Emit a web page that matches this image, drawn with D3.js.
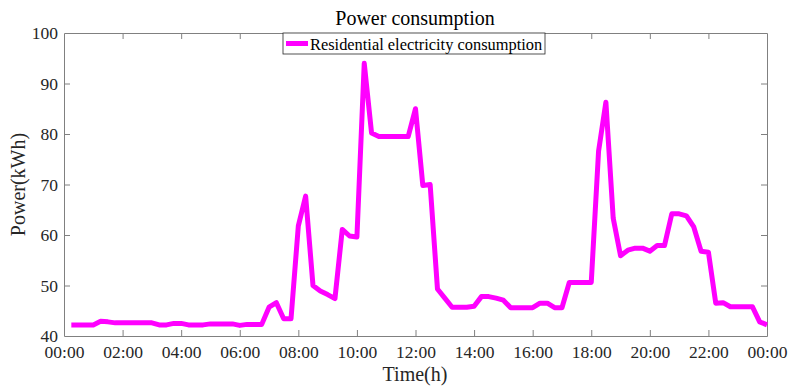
<!DOCTYPE html>
<html>
<head>
<meta charset="utf-8">
<script src="https://cdn.jsdelivr.net/npm/d3@7"></script>
<style>
  body { margin: 0; background: #fff; }
  svg { display: block; font-family: "Liberation Serif", "Times New Roman", serif; }
  .axis path, .axis line { stroke: #808080; }
  .axis text { fill: #262626; font-size: 17.5px; font-family: "Liberation Serif", serif; }
</style>
</head>
<body>
<script>
// hours at 15 min steps, 00:15 .. 24:00
var hours = d3.range(1, 97).map(function (i) { return i * 0.25; });
var power = [
  42.2, 42.2, 42.2, 42.2, 42.9, 42.8, 42.6, 42.6,
  42.6, 42.6, 42.6, 42.6, 42.2, 42.2, 42.5, 42.5,
  42.2, 42.2, 42.2, 42.4, 42.4, 42.4, 42.4, 42.1,
  42.3, 42.3, 42.3, 45.7, 46.6, 43.4, 43.4, 61.8,
  67.7, 50.0, 48.9, 48.2, 47.4, 61.1, 59.8, 59.6,
  94.0, 80.2, 79.5, 79.5, 79.5, 79.5, 79.5, 85.0,
  69.8, 70.0, 49.3, 47.5, 45.7, 45.7, 45.7, 45.9,
  47.8, 47.8, 47.5, 47.1, 45.6, 45.6, 45.6, 45.6,
  46.5, 46.5, 45.6, 45.6, 50.6, 50.6, 50.6, 50.6,
  76.6, 86.3, 63.3, 55.9, 57.0, 57.4, 57.4, 56.8,
  57.9, 57.9, 64.2, 64.2, 63.8, 61.6, 56.8, 56.6,
  46.5, 46.6, 45.8, 45.8, 45.8, 45.8, 42.8, 42.2
];
var xTicks = d3.range(0, 25, 2);
var yTicks = [40, 50, 60, 70, 80, 90, 100];
var title = "Power consumption";
var seriesName = "Residential electricity consumption";

var W = 795, H = 389;
var margin = { top: 33, right: 28, bottom: 53, left: 64 },
  width = W - margin.left - margin.right,
  height = H - margin.top - margin.bottom;

var x = d3.scaleLinear().domain([0, 24]).range([0, width]);
var y = d3.scaleLinear().domain([40, 100]).range([height, 0]);

var svg = d3.select("body").append("svg")
  .attr("width", W).attr("height", H);
var g = svg.append("g")
  .attr("transform", "translate(" + margin.left + "," + margin.top + ")");

function fmt(h) { return (h % 24 < 10 ? "0" : "") + (h % 24) + ":00"; }

// axes, ticks pointing inward, box on all four sides
g.append("g").attr("class", "axis")
  .attr("transform", "translate(0," + height + ")")
  .call(d3.axisBottom(x).tickValues(xTicks).tickFormat(fmt).tickSizeInner(-6).tickSizeOuter(0).tickPadding(10));
g.append("g").attr("class", "axis")
  .call(d3.axisTop(x).tickValues(xTicks).tickFormat("").tickSizeInner(-6).tickSizeOuter(0));
g.append("g").attr("class", "axis")
  .call(d3.axisLeft(y).tickValues(yTicks).tickSizeInner(-6).tickSizeOuter(0).tickPadding(6));
g.append("g").attr("class", "axis")
  .attr("transform", "translate(" + width + ",0)")
  .call(d3.axisRight(y).tickValues(yTicks).tickFormat("").tickSizeInner(-6).tickSizeOuter(0));
// hide ticks at the corners
g.selectAll(".axis .tick").filter(function (d) { return d === 0 || d === 24 || d === 40 || d === 100; })
  .select("line").attr("stroke-opacity", 0);

// the line
var line = d3.line()
  .x(function (d, i) { return x(hours[i]); })
  .y(function (d) { return y(d); });
g.append("path")
  .datum(power)
  .attr("fill", "none")
  .attr("stroke", "#ff00ff")
  .attr("stroke-width", 5)
  .attr("stroke-linejoin", "round")
  .attr("d", line);

// title and labels
svg.append("text").attr("x", 415).attr("y", 25)
  .attr("text-anchor", "middle").attr("font-size", 20).attr("fill", "#000")
  .text(title);
svg.append("text").attr("x", 415).attr("y", 381)
  .attr("text-anchor", "middle").attr("font-size", 20).attr("fill", "#262626")
  .text("Time(h)");
svg.append("text")
  .attr("transform", "translate(25," + (margin.top + height / 2) + ") rotate(-90)")
  .attr("text-anchor", "middle").attr("font-size", 20).attr("fill", "#262626")
  .text("Power(kWh)");

// legend
var lg = svg.append("g").attr("transform", "translate(283,33)");
lg.append("rect").attr("width", 262).attr("height", 21)
  .attr("fill", "#fff").attr("stroke", "#262626").attr("stroke-width", 0.8);
lg.append("line").attr("x1", 3).attr("x2", 25).attr("y1", 10.5).attr("y2", 10.5)
  .attr("stroke", "#ff00ff").attr("stroke-width", 5);
lg.append("text").attr("x", 27).attr("y", 16.5)
  .attr("font-size", 16.4).attr("fill", "#000")
  .text(seriesName);
</script>
</body>
</html>
